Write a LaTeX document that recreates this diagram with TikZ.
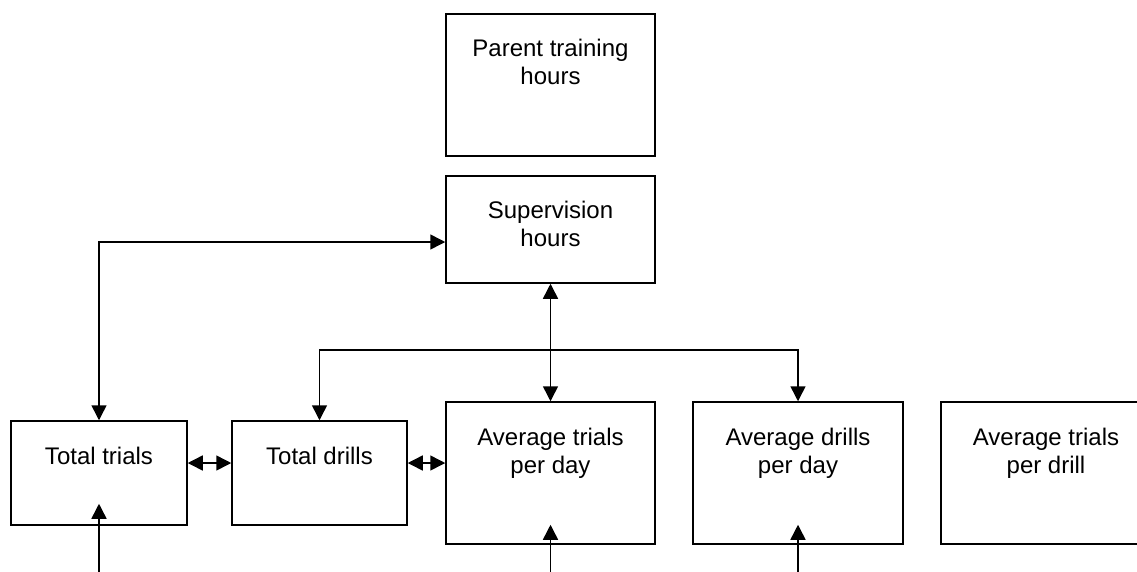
\documentclass[tikz,border=0pt]{standalone}
\usepackage{fontspec}
\setmainfont{Liberation Sans}
\usetikzlibrary{arrows.meta}
\begin{document}
\begin{tikzpicture}[x=1pt,y=-1pt,
  box/.style={draw, line width=1.5pt, rectangle, inner sep=0pt},
  lbl/.style={anchor=north, inner sep=0pt, align=center, font=\fontsize{24}{27.5}\selectfont},
  conn/.style={line width=1.5pt},
  >={Triangle[length=15pt,width=15pt]}]
\useasboundingbox (0,0) rectangle (1137,571);
\clip (0,0) rectangle (1137,571);

% boxes
\node[box, minimum width=209pt, minimum height=142pt] (pth) at (550.5,85) {};
\node[box, minimum width=209pt, minimum height=107pt] (sup) at (550.5,229.5) {};
\node[box, minimum width=176pt, minimum height=104pt] (tt)  at (99,473) {};
\node[box, minimum width=175pt, minimum height=104pt] (td)  at (319.5,473) {};
\node[box, minimum width=209pt, minimum height=142pt] (atd) at (550.5,473) {};
\node[box, minimum width=210pt, minimum height=142pt] (add) at (798,473) {};
\node[box, minimum width=210pt, minimum height=142pt] (atr) at (1046,473) {};

% labels, set near the top of each box
\node[lbl] (pthT) at ([yshift=-26pt]pth.north) {Parent training\\hours};
\node[lbl] (supT) at ([yshift=-26pt]sup.north) {Supervision\\hours};
\node[lbl] (ttT)  at ([yshift=-27pt]tt.north)  {Total trials};
\node[lbl] (tdT)  at ([yshift=-27pt]td.north)  {Total drills};
\node[lbl] (atdT) at ([yshift=-27pt]atd.north) {Average trials\\per day};
\node[lbl] (addT) at ([yshift=-27pt]add.north) {Average drills\\per day};
\node[lbl] (atrT) at ([yshift=-27pt]atr.north) {Average trials\\per drill};

% connectors
\coordinate (c1) at (99,242);
\draw[conn,<->] (tt.north) -- (c1) -- (c1 -| sup.west);
\coordinate (bus) at (319.5,350);
\draw[conn,<->] (td.north) -- (bus) -| (add.north);
\draw[conn,<->] (sup.south) -- (atd.north);
\draw[conn,<->] ([yshift=10pt]tt.east) -- ([yshift=10pt]td.west);
\draw[conn,<->] ([yshift=10pt]td.east) -- ([yshift=10pt]atd.west);

% incoming arrows from below
\coordinate (in1) at (99,575);
\coordinate (in2) at (550.5,575);
\coordinate (in3) at (798,575);
\draw[conn,->] (in1) -- ([yshift=22pt]tt.south);
\draw[conn,->] (in2) -- ([yshift=20pt]atd.south);
\draw[conn,->] (in3) -- ([yshift=20pt]add.south);
\end{tikzpicture}
\end{document}
